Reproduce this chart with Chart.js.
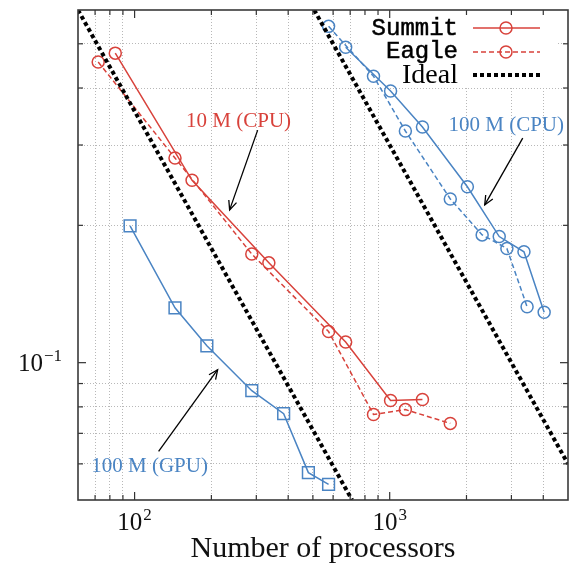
<!DOCTYPE html>
<html><head><meta charset="utf-8">
<script src="https://cdn.jsdelivr.net/npm/chart.js@4.4.1/dist/chart.umd.min.js"></script>
<style>html,body{margin:0;padding:0;background:#fff;} #wrap{width:570px;height:572px;position:relative;}</style>
</head><body><div id="wrap"><canvas id="c"></canvas></div>
<script>
// ---- data ----
const summit10Procs = [84, 168, 336, 672, 1008, 1344];
const summit10Time  = [0.477, 0.251, 0.1655, 0.111, 0.0826, 0.0830];
const eagle10Procs  = [72, 144, 288, 576, 864, 1152, 1728];
const eagle10Time   = [0.456, 0.281, 0.173, 0.117, 0.0770, 0.0789, 0.0736];
const summit100Procs = [672, 1008, 1344, 2016, 2688, 3360, 4032];
const summit100Time  = [0.4915, 0.394, 0.3285, 0.243, 0.189, 0.175, 0.129];
const eagle100Procs  = [576, 864, 1152, 1728, 2304, 2880, 3456];
const eagle100Time   = [0.546, 0.4246, 0.322, 0.2285, 0.1906, 0.178, 0.1326];
const gpu100Procs = [96, 144, 192, 288, 384, 480, 576];
const gpu100Time  = [0.1994, 0.1319, 0.1089, 0.0868, 0.0773, 0.0574, 0.0541];
const idealLowProcs  = [60, 712];
const idealLowTime   = [0.593, 0.05];
const idealHighProcs = [506, 5000];
const idealHighTime  = [0.593, 0.06];

const xMajorTicks = [100, 1000];
const xMajorBase  = ['10', '10'];
const xMajorExp   = ['2', '3'];
const xMinorTicks = [70, 80, 90, 200, 300, 400, 500, 600, 700, 800, 900, 2000, 3000, 4000];
const yMajorTicks = [0.1];
const yMajorBase  = ['10'];
const yMajorExp   = ['−1'];
const yMinorTicks = [0.06, 0.07, 0.08, 0.09, 0.2, 0.3, 0.4, 0.5];
const legendLabels = ['Summit', 'Eagle', 'Ideal'];
const xTitle = 'Number of processors';

// annotation texts (anchored in data coordinates)
const noteTexts = ['10 M (CPU)', '100 M (CPU)', '100 M (GPU)'];
const noteAnchors = [[255.7, 0.3285], [2863, 0.322], [114.5, 0.0577]];
const arrowTails = [[303.7, 0.3234], [3323, 0.3107], [124.2, 0.0639]];
const arrowHeads = [[235.8, 0.2162], [2358, 0.2217], [211.6, 0.0965]];

// ---- styles ----
const RED = '#d8423b', BLUE = '#4a84c3';
const noteColors = [RED, BLUE, BLUE];
const SERIF = '"Liberation Serif", "DejaVu Serif", serif';
const MONO = '"Liberation Mono", "DejaVu Sans Mono", monospace';

const zip = (xs, ys) => xs.map((x, i) => ({x, y: ys[i]}));
const markerSet = (style, r) => ({pointStyle: style, pointRadius: r, pointHoverRadius: r, pointBorderWidth: 1.5, pointBackgroundColor: 'rgba(0,0,0,0)'});

const datasets = [
  {label: 'Ideal', data: zip(idealLowProcs, idealLowTime), borderColor: '#000', borderWidth: 4, borderDash: [4, 3], pointRadius: 0, order: 0},
  {label: 'Ideal', data: zip(idealHighProcs, idealHighTime), borderColor: '#000', borderWidth: 4, borderDash: [4, 3], pointRadius: 0, order: 0},
  Object.assign({label: 'Summit', data: zip(summit10Procs, summit10Time), borderColor: RED, pointBorderColor: RED, borderWidth: 1.5, order: 1}, markerSet('circle', 6)),
  Object.assign({label: 'Eagle', data: zip(eagle10Procs, eagle10Time), borderColor: RED, pointBorderColor: RED, borderWidth: 1.5, borderDash: [5, 3], order: 1}, markerSet('circle', 6)),
  Object.assign({label: 'Summit', data: zip(summit100Procs, summit100Time), borderColor: BLUE, pointBorderColor: BLUE, borderWidth: 1.5, order: 1}, markerSet('circle', 6)),
  Object.assign({label: 'Eagle', data: zip(eagle100Procs, eagle100Time), borderColor: BLUE, pointBorderColor: BLUE, borderWidth: 1.5, borderDash: [5, 3], order: 1}, markerSet('circle', 6)),
  Object.assign({label: 'GPU', data: zip(gpu100Procs, gpu100Time), borderColor: BLUE, pointBorderColor: BLUE, borderWidth: 1.5, order: 1}, markerSet('rect', 8.3)),
];

function buildTicks(scale, minor, major) {
  const all = minor.concat(major).sort((a, b) => a - b);
  scale.ticks = all.map(v => ({value: v, major: major.includes(v)}));
}
const gridColor = major => ctx => (ctx.tick && major.some(m => Math.abs(m - ctx.tick.value) / m < 1e-6)) ? 'rgba(0,0,0,0)' : '#b8b8b8';
function noPad(s) { s.paddingTop = 0; s.paddingBottom = 0; s.paddingLeft = 0; s.paddingRight = 0; }

function drawArrow(ctx, x1, y1, x2, y2) {
  const a = Math.atan2(y2 - y1, x2 - x1), L = 10, s = 0.42;
  ctx.beginPath(); ctx.moveTo(x1, y1); ctx.lineTo(x2, y2); ctx.stroke();
  ctx.beginPath();
  ctx.moveTo(x2 - L * Math.cos(a - s), y2 - L * Math.sin(a - s));
  ctx.lineTo(x2, y2);
  ctx.lineTo(x2 - L * Math.cos(a + s), y2 - L * Math.sin(a + s));
  ctx.stroke();
}
// power-of-ten label: base + raised exponent; align 'center' or 'right'
function drawPow(ctx, base, exp, x, y, align) {
  ctx.font = '25px ' + SERIF;
  const wb = ctx.measureText(base).width;
  ctx.font = '17px ' + SERIF;
  const we = ctx.measureText(exp).width;
  const total = wb + we + 1;
  const x0 = align === 'center' ? x - total / 2 : x - total;
  ctx.textAlign = 'left'; ctx.textBaseline = 'alphabetic';
  ctx.font = '25px ' + SERIF; ctx.fillText(base, x0, y);
  ctx.font = '17px ' + SERIF; ctx.fillText(exp, x0 + wb + 1, y - 10);
}

const decor = {
  id: 'decor',
  beforeDatasetsDraw(chart) {
    const ctx = chart.ctx;
    ctx.save();
    ctx.fillStyle = '#fff';
    ctx.fillRect(358, 11, 199, 76);
    // legend text
    ctx.fillStyle = '#000'; ctx.strokeStyle = '#000'; ctx.lineWidth = 0.5;
    ctx.textAlign = 'right'; ctx.textBaseline = 'alphabetic';
    ctx.font = '24px ' + MONO;
    ctx.fillText(legendLabels[0], 458, 35); ctx.strokeText(legendLabels[0], 458, 35);
    ctx.fillText(legendLabels[1], 458, 58); ctx.strokeText(legendLabels[1], 458, 58);
    ctx.font = '28px ' + SERIF;
    ctx.fillText(legendLabels[2], 458, 83);
    // samples
    ctx.lineWidth = 1.5; ctx.strokeStyle = RED;
    ctx.beginPath(); ctx.moveTo(473, 28); ctx.lineTo(540, 28); ctx.stroke();
    ctx.beginPath(); ctx.arc(506, 28, 6, 0, Math.PI * 2); ctx.stroke();
    ctx.setLineDash([5, 3]);
    ctx.beginPath(); ctx.moveTo(473, 52); ctx.lineTo(540, 52); ctx.stroke();
    ctx.setLineDash([]);
    ctx.beginPath(); ctx.arc(506, 52, 6, 0, Math.PI * 2); ctx.stroke();
    ctx.strokeStyle = '#000'; ctx.lineWidth = 4; ctx.setLineDash([4, 3]);
    ctx.beginPath(); ctx.moveTo(473, 75); ctx.lineTo(541, 75); ctx.stroke();
    ctx.restore();
  },
  afterDatasetsDraw(chart) {
    const ctx = chart.ctx, a = chart.chartArea, xs = chart.scales.x, ys = chart.scales.y;
    ctx.save();
    // inward ticks
    ctx.strokeStyle = '#333'; ctx.lineWidth = 1.2;
    const tick = (x1, y1, x2, y2) => { ctx.beginPath(); ctx.moveTo(x1, y1); ctx.lineTo(x2, y2); ctx.stroke(); };
    xMinorTicks.concat(xMajorTicks).forEach(v => {
      const px = xs.getPixelForValue(v), L = xMajorTicks.includes(v) ? 8 : 5;
      tick(px, a.bottom, px, a.bottom - L); tick(px, a.top, px, a.top + L);
    });
    yMinorTicks.concat(yMajorTicks).forEach(v => {
      const py = ys.getPixelForValue(v), L = yMajorTicks.includes(v) ? 8 : 5;
      tick(a.left, py, a.left + L, py); tick(a.right, py, a.right - L, py);
    });
    // frame
    ctx.strokeStyle = '#3a3a3a'; ctx.lineWidth = 1.6;
    ctx.strokeRect(a.left, a.top, a.right - a.left, a.bottom - a.top);
    // tick labels
    ctx.fillStyle = '#111';
    xMajorTicks.forEach((v, i) => drawPow(ctx, xMajorBase[i], xMajorExp[i], xs.getPixelForValue(v), a.bottom + 30, 'center'));
    yMajorTicks.forEach((v, i) => drawPow(ctx, yMajorBase[i], yMajorExp[i], a.left - 16, ys.getPixelForValue(v) + 8, 'right'));
    // annotations
    ctx.font = '21px ' + SERIF; ctx.textAlign = 'center'; ctx.textBaseline = 'alphabetic';
    noteTexts.forEach((t, i) => {
      ctx.fillStyle = noteColors[i];
      ctx.fillText(t, xs.getPixelForValue(noteAnchors[i][0]), ys.getPixelForValue(noteAnchors[i][1]));
    });
    ctx.strokeStyle = '#000'; ctx.lineWidth = 1.3;
    arrowTails.forEach((t, i) => {
      drawArrow(ctx, xs.getPixelForValue(t[0]), ys.getPixelForValue(t[1]),
        xs.getPixelForValue(arrowHeads[i][0]), ys.getPixelForValue(arrowHeads[i][1]));
    });
    ctx.restore();
  }
};

new Chart(document.getElementById('c'), {
  type: 'line',
  data: {datasets},
  options: {
    responsive: true, maintainAspectRatio: false, animation: false,
    devicePixelRatio: 1,
    layout: {autoPadding: false, padding: {top: 10, right: 2, left: 0, bottom: 0}},
    plugins: {legend: {display: false}, tooltip: {enabled: false}},
    elements: {line: {tension: 0}},
    scales: {
      x: {
        type: 'logarithmic', min: 60, max: 5000,
        afterBuildTicks: s => buildTicks(s, xMinorTicks, xMajorTicks),
        afterFit: s => { s.height = 72; noPad(s); },
        grid: {color: gridColor(xMajorTicks), lineWidth: 1, drawTicks: false},
        border: {display: false, dash: [1, 2]},
        ticks: {autoSkip: false, maxRotation: 0, padding: 10, callback: () => ''},
        title: {display: true, text: xTitle, color: '#111', font: {family: SERIF, size: 30}, padding: {top: 0, bottom: 5}}
      },
      y: {
        type: 'logarithmic', min: 0.05, max: 0.593,
        afterBuildTicks: s => buildTicks(s, yMinorTicks, yMajorTicks),
        afterFit: s => { s.width = 78; noPad(s); },
        grid: {color: gridColor(yMajorTicks), lineWidth: 1, drawTicks: false},
        border: {display: false, dash: [1, 2]},
        ticks: {autoSkip: false, padding: 14, callback: () => ''}
      }
    }
  },
  plugins: [decor]
});
</script></body></html>
